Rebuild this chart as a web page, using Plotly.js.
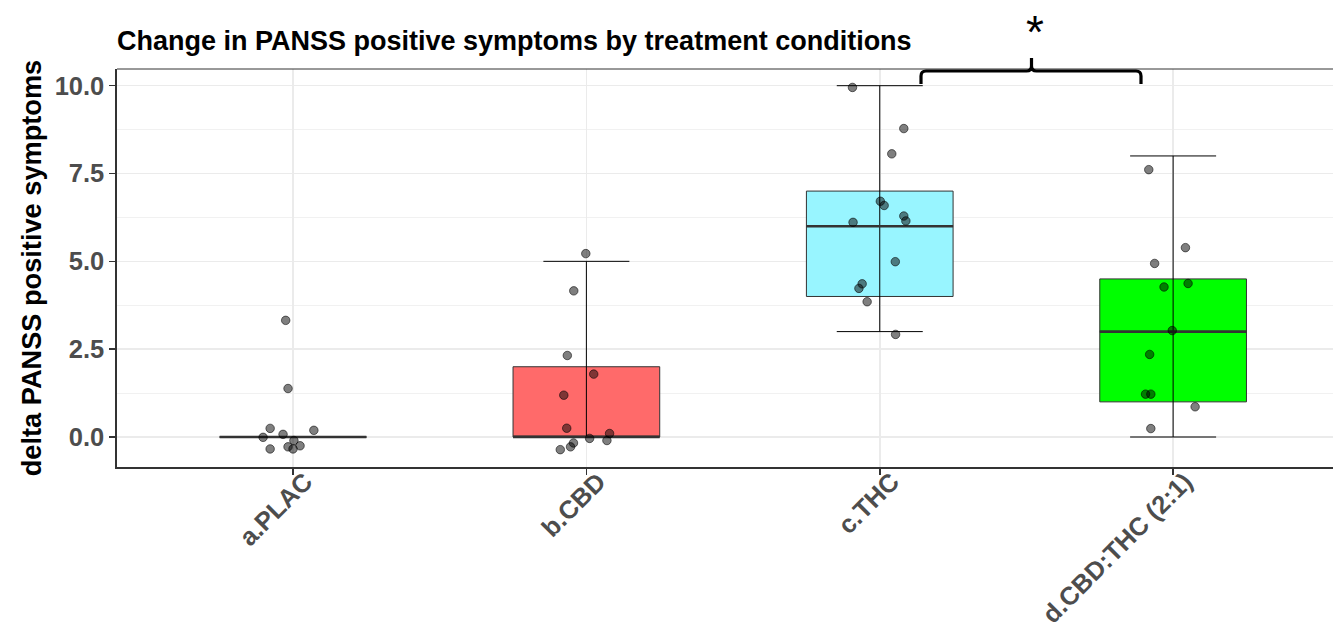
<!DOCTYPE html>
<html><head><meta charset="utf-8">
<script src="https://cdn.plot.ly/plotly-3.0.1.min.js"></script>
<style>html,body{margin:0;padding:0;background:#fff}#chart{width:1333px;height:634px}</style>
</head><body><div id="chart"></div>
<script>
// ---- data ----
const categories = ["a.PLAC", "b.CBD", "c.THC", "d.CBD:THC (2:1)"];
const positions = [1, 2, 3, 4];
const boxQ1 = [0, 0, 4, 1];
const boxMedian = [0, 0, 6, 3];
const boxQ3 = [0, 2, 7, 4.5];
const whiskerLow = [0, 0, 3, 0];
const whiskerHigh = [0, 5, 10, 8];
const boxFill = ["#BEBEBE", "#FF6A6A", "#98F5FF", "#00FF00"];

// jittered points: horizontal offset from category centre, value
const placJitter = [-0.025, -0.017, -0.078, 0.071, -0.034, -0.102, 0.003, -0.078, -0.017, 0, 0.024];
const placValues = [3.32, 1.38, 0.245, 0.19, 0.075, -0.01, -0.1, -0.34, -0.28, -0.34, -0.25];
const cbdJitter = [-0.002, -0.043, -0.065, 0.025, -0.077, -0.067, 0.079, 0.011, 0.070, -0.044, -0.054, -0.089];
const cbdValues = [5.22, 4.16, 2.32, 1.79, 1.19, 0.25, 0.10, -0.04, -0.10, -0.17, -0.28, -0.36];
const thcJitter = [-0.093, 0.082, 0.041, 0.002, 0.015, 0.082, 0.089, -0.091, 0.053, -0.060, -0.071, -0.043, 0.054];
const thcValues = [9.95, 8.78, 8.06, 6.71, 6.59, 6.29, 6.15, 6.11, 4.99, 4.36, 4.23, 3.85, 2.92];
const mixJitter = [-0.083, 0.042, -0.063, 0.051, -0.031, -0.003, -0.080, -0.094, -0.076, 0.075, -0.076];
const mixValues = [7.61, 5.39, 4.94, 4.37, 4.27, 3.03, 2.35, 1.22, 1.22, 0.86, 0.24];

const yTickVals = [0, 2.5, 5, 7.5, 10];
const yTickText = ["0.0", "2.5", "5.0", "7.5", "10.0"];
const yMinorVals = [1.25, 3.75, 6.25, 8.75];

// ---- traces ----
const BOX_W = 0.5;
const traces = [];
positions.forEach((p, i) => {
  traces.push({
    type: 'box', x: [p], q1: [boxQ1[i]], median: [boxMedian[i]], q3: [boxQ3[i]],
    lowerfence: [boxQ1[i]], upperfence: [boxQ3[i]],
    width: BOX_W, boxpoints: false, fillcolor: boxFill[i],
    line: {color: '#333333', width: 1}, whiskerwidth: 0, hoverinfo: 'skip'
  });
});

// whiskers (errorbar style with caps)
traces.push({
  type: 'scatter', mode: 'markers', x: positions, y: whiskerLow,
  marker: {size: 1, color: 'rgba(0,0,0,0)'},
  error_y: {type: 'data', symmetric: false,
    array: whiskerHigh.map((h, i) => h - whiskerLow[i]),
    arrayminus: whiskerLow.map(() => 0),
    width: 43, thickness: 1, color: '#000000'},
  hoverinfo: 'skip'
});

// thick median lines
const medX = [], medY = [];
positions.forEach((p, i) => { medX.push(p - BOX_W / 2, p + BOX_W / 2, null); medY.push(boxMedian[i], boxMedian[i], null); });
traces.push({type: 'scatter', mode: 'lines', x: medX, y: medY, line: {color: '#333333', width: 2.6}, hoverinfo: 'skip'});

// points
const groups = [[placJitter, placValues], [cbdJitter, cbdValues], [thcJitter, thcValues], [mixJitter, mixValues]];
const ptX = [], ptY = [];
groups.forEach((g, i) => { g[0].forEach((j, k) => { ptX.push(positions[i] + j); ptY.push(g[1][k]); }); });
traces.push({
  type: 'scatter', mode: 'markers', x: ptX, y: ptY,
  marker: {size: 8.5, color: 'rgba(0,0,0,0.5)', line: {color: 'rgba(0,0,0,0.55)', width: 1}},
  hoverinfo: 'skip'
});

// ---- layout ----
const W = 1333, H = 634, L = 117, T = 69, B = 167;
const plotW = W - L, plotH = H - T - B;
const px = v => (v - L) / plotW;
const py = v => (H - B - v) / plotH;
// significance bracket (pixel geometry -> paper)
const bL = 921, bR = 1141, bC = 1031.5, bY = 71, bTip = 84, bTop = 58, r = 5;
const P = (x, y) => px(x) + ',' + py(y);
const bracketPath =
  'M' + P(bL, bTip) + ' L' + P(bL, bY + r) + ' Q' + P(bL, bY) + ' ' + P(bL + r, bY) +
  ' L' + P(bC - r, bY) + ' Q' + P(bC, bY) + ' ' + P(bC, bY - r) + ' L' + P(bC, bTop) +
  ' M' + P(bC, bY - r) + ' Q' + P(bC, bY) + ' ' + P(bC + r, bY) +
  ' L' + P(bR - r, bY) + ' Q' + P(bR, bY) + ' ' + P(bR, bY + r) + ' L' + P(bR, bTip);

const FONT = '"Liberation Sans", Arial, Helvetica, sans-serif';
const layout = {
  width: W, height: H,
  margin: {l: L, r: 0, t: T, b: B, pad: 0},
  paper_bgcolor: '#ffffff', plot_bgcolor: '#ffffff',
  showlegend: false,
  font: {family: FONT, color: '#000'},
  title: {
    text: '<b>Change in PANSS positive symptoms by treatment conditions</b>',
    font: {size: 27, color: '#000000', family: FONT},
    xref: 'container', x: L / W, xanchor: 'left',
    yref: 'container', y: 1 - 41 / H, yanchor: 'middle'
  },
  xaxis: {
    range: [0.4, 4.545], tickvals: positions, ticktext: categories,
    tickangle: -45, tickfont: {size: 25.5, color: '#4D4D4D', family: FONT, weight: 'bold'},
    ticklabelshift: 12, ticklabelstandoff: -18,
    ticks: 'outside', ticklen: 6, tickwidth: 1.5, tickcolor: '#333333',
    showgrid: true, gridcolor: '#EBEBEB', gridwidth: 1.6,
    showline: true, linecolor: '#333333', linewidth: 1.6,
    zeroline: false, fixedrange: true
  },
  yaxis: {
    range: [-0.854, 10.475], tickvals: yTickVals, ticktext: yTickText,
    tickfont: {size: 25.5, color: '#4D4D4D', family: FONT, weight: 'bold'},
    ticks: 'outside', ticklen: 6, tickwidth: 1.5, tickcolor: '#333333',
    showgrid: true, gridcolor: '#EBEBEB', gridwidth: 1.6,
    minor: {tickvals: yMinorVals, showgrid: true, gridcolor: '#EFEFEF', gridwidth: 0.9, ticks: ''},
    showline: true, linecolor: '#333333', linewidth: 1.6,
    zeroline: false, fixedrange: true,
    title: {text: '<b>delta PANSS positive symptoms</b>', standoff: 5,
            font: {size: 27.2, color: '#000000', family: FONT}}
  },
  shapes: [
    {type: 'line', xref: 'paper', yref: 'paper', x0: 0, x1: 1, y0: 1, y1: 1, line: {color: '#333333', width: 1}},
    {type: 'path', xref: 'paper', yref: 'paper', path: bracketPath, line: {color: '#000000', width: 3.2}}
  ],
  annotations: [
    {text: '*', xref: 'paper', yref: 'paper', x: px(1034.5), y: py(3.5), xanchor: 'center', yanchor: 'top',
     showarrow: false, font: {size: 46, color: '#000000', family: FONT}}
  ]
};

Plotly.newPlot('chart', traces, layout, {staticPlot: true, displayModeBar: false});
</script>
</body></html>
